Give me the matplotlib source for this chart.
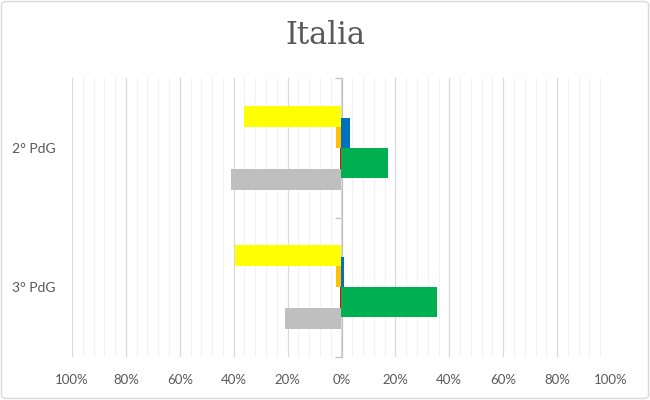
import matplotlib
matplotlib.use("Agg")
import matplotlib.pyplot as plt
from matplotlib.patches import FancyBboxPatch
import numpy as np

# ---- data ----
categories = ["2° PdG", "3° PdG"]
# primary group (top to bottom within a category)
yellow_vals = [-0.36, -0.395]
orange_vals = [-0.022, -0.022]
red_vals = [-0.004, -0.004]
gray_vals = [-0.41, -0.21]
# secondary group
blue_vals = [0.03, 0.009]
green_vals = [0.173, 0.355]

tick_values = [-1.0, -0.8, -0.6, -0.4, -0.2, 0.0, 0.2, 0.4, 0.6, 0.8, 1.0]
tick_labels = ["100%", "80%", "60%", "40%", "20%", "0%", "20%", "40%", "60%", "80%", "100%"]
title = "Italia"

# ---- figure ----
W, H = 650, 400
fig = plt.figure(figsize=(W / 100, H / 100), dpi=100)
fig.patch.set_facecolor("white")
border = FancyBboxPatch((1.5 / W, 1.5 / H), 1 - 3 / W, 1 - 3 / H,
                        boxstyle="round,pad=0,rounding_size=0.008",
                        transform=fig.transFigure, facecolor="none",
                        edgecolor="#d9d9d9", linewidth=1.0)
fig.patches.append(border)

ax = fig.add_axes([72 / W, (H - 357) / H, (611 - 72) / W, (357 - 78) / H])
ax.set_xlim(-1, 1)
ax.set_ylim(1.5, -0.5)

y = np.arange(len(categories))
ph = 0.15
primary = [(yellow_vals, "#FFFF00"), (orange_vals, "#FFC000"),
           (red_vals, "#FF0000"), (gray_vals, "#BFBFBF")]
offs_p = [-0.225, -0.075, 0.075, 0.225]
for (vals, col), o in zip(primary, offs_p):
    ax.barh(y + o, vals, height=ph, color=col, linewidth=0, zorder=3)

sh = 0.214
secondary = [(blue_vals, "#0070C0"), (green_vals, "#00B050")]
offs_s = [-0.107, 0.107]
for (vals, col), o in zip(secondary, offs_s):
    ax.barh(y + o, vals, height=sh, color=col, linewidth=0, zorder=3)

# grid
ax.set_xticks(tick_values)
ax.set_xticklabels(tick_labels)
ax.set_xticks(np.arange(-1, 1.0001, 0.04), minor=True)
ax.grid(axis="x", which="major", color="#d9d9d9", linewidth=0.9, zorder=0)
ax.grid(axis="x", which="minor", color="#f2f2f2", linewidth=0.9, zorder=0)
ax.set_axisbelow(True)
ax.tick_params(axis="x", which="both", length=0, pad=12, labelsize=9.5,
               labelcolor="#595959")
for lab in ax.get_xticklabels():
    lab.set_fontfamily("Lato")

ax.set_yticks(y)
ax.set_yticklabels(categories, fontfamily="Lato")
ax.tick_params(axis="y", length=0, pad=12, labelsize=10, labelcolor="#595959")

for s in ax.spines.values():
    s.set_visible(False)

# category axis at zero
sec = ax.secondary_yaxis(0.5)
sec.set_yticks([-0.5, 0.5, 1.5])
sec.set_yticklabels(["", "", ""])
sec.tick_params(length=5, width=0.9, color="#bfbfbf", direction="in",
                labelleft=False, labelright=False)
for s in sec.spines.values():
    s.set_color("#bfbfbf")
    s.set_linewidth(0.9)

fig.text(0.5, 1 - 36 / H, title, ha="center", va="center",
         fontsize=22, color="#595959", fontfamily="DejaVu Serif")

fig.savefig("out.png", dpi=100)
